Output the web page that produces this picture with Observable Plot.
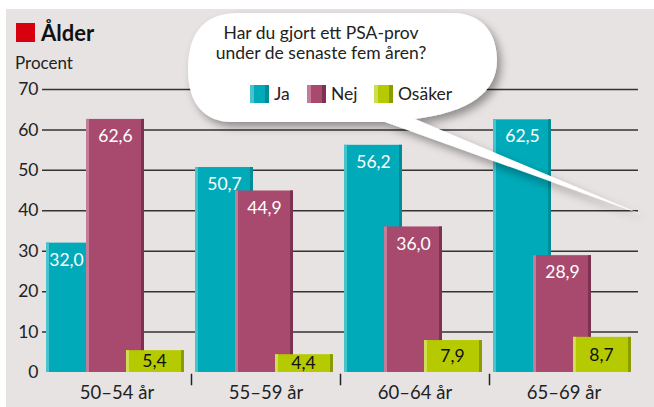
<!DOCTYPE html>
<html>
<head>
<meta charset="utf-8">
<script src="https://cdn.jsdelivr.net/npm/d3@7"></script>
<script src="https://cdn.jsdelivr.net/npm/@observablehq/plot@0.6"></script>
<style>
  html, body { margin: 0; padding: 0; background: #ffffff; }
  #wrap { position: relative; width: 654px; height: 407px; overflow: hidden; font-family: Lato, "Open Sans", sans-serif; }
  #panel { position: absolute; left: 6px; top: 9px; width: 648px; height: 398px; background: #e8e3e3; }
  #chart { position: absolute; left: 0; top: 0; }
  #overlay { position: absolute; left: 0; top: 0; pointer-events: none; }
  .title { position: absolute; left: 16px; top: 19px; font-weight: 700; font-size: 22px; color: #111; display: flex; align-items: center; }
  .title .sq { width: 19px; height: 19px; background: #d7000f; margin-right: 6px; }
  .unit { position: absolute; left: 15px; top: 52px; font-size: 17px; color: #222; }
</style>
</head>
<body>
<div id="wrap">
  <div id="panel"></div>
  <div class="title"><span class="sq"></span><span>Ålder</span></div>
  <div class="unit">Procent</div>
  <div id="chart"></div>
  <svg id="overlay" width="654" height="407"></svg>
</div>
<script>
// ---- data ----
const groups = ["50–54 år", "55–59 år", "60–64 år", "65–69 år"];
const series = ["Ja", "Nej", "Osäker"];
const ja = [32.0, 50.7, 56.2, 62.5];
const nej = [62.6, 44.9, 36.0, 28.9];
const osaker = [5.4, 4.4, 7.9, 8.7];
const yTicks = [0, 10, 20, 30, 40, 50, 60, 70];
const question = ["Har du gjort ett PSA-prov", "under de senaste fem åren?"];

// ---- styles ----
const mainColor = {Ja: "#00aab9", Nej: "#a84a6e", "Osäker": "#b5ca00"};
const lightColor = {Ja: "#45c4ce", Nej: "#c47c98", "Osäker": "#cfdd50"};
const darkColor = {Ja: "#008c96", Nej: "#7d3252", "Osäker": "#8c9b00"};

const valuesBySeries = {Ja: ja, Nej: nej, "Osäker": osaker};
const data = groups.flatMap((g, i) => series.map((s, j) => {
  const v = valuesBySeries[s][i];
  const next = j < series.length - 1 ? valuesBySeries[series[j + 1]][i] : -Infinity;
  return {group: g, series: s, value: v, covered: next > v};
}));
const fmt = d => d3.format(".1f")(d).replace(".", ",");

const barMarks = series.flatMap(s => {
  const d = data.filter(r => r.series === s);
  return [
    Plot.barY(d, {fx: "group", x: "series", y: "value", fill: mainColor[s], insetRight: -18}),
    Plot.barY(d, {fx: "group", x: "series", y: "value", fill: lightColor[s], insetRight: 37}),
    Plot.barY(d, {fx: "group", x: "series", y: "value", fill: darkColor[s], insetLeft: 55, insetRight: -18})
  ];
});

const labelTop = data.filter(d => d.series !== "Osäker");
const labelMarks = [
  Plot.text(labelTop.filter(d => !d.covered), {fx: "group", x: "series", y: "value", text: d => fmt(d.value), fill: "#ffffff", dx: 9, dy: 17, fontSize: 17.5}),
  Plot.text(labelTop.filter(d => d.covered), {fx: "group", x: "series", y: "value", text: d => fmt(d.value), fill: "#ffffff", dx: 0, dy: 17, fontSize: 17.5}),
  Plot.text(data.filter(d => d.series === "Osäker"), {fx: "group", x: "series", y: d => d.value / 2, text: d => fmt(d.value), fill: "#111111", dx: 8, fontSize: 17.5})
];

const boundaryMarks = groups.slice(1).map(g =>
  Plot.frame({fx: () => g, anchor: "left", stroke: "#222", strokeWidth: 1.5, insetTop: 285, insetBottom: -12})
);

const chart = Plot.plot({
  width: 654,
  height: 407,
  marginLeft: 41,
  marginRight: 15,
  marginTop: 89,
  marginBottom: 35,
  style: {background: "transparent", fontFamily: "Lato, 'Open Sans', sans-serif", fontSize: "17px", color: "#222"},
  fx: {domain: groups, padding: 0, label: null},
  x: {domain: series, padding: 0, insetLeft: 3, insetRight: 23.5, axis: null},
  y: {domain: [0, 70], label: null},
  marks: [
    Plot.gridY(yTicks.filter(d => d > 0), {stroke: "#333", strokeOpacity: 1, strokeWidth: 1.5}),
    Plot.axisY(yTicks, {tickSize: 0, tickPadding: 4, fontSize: 17.5, label: null, fill: "#222"}),
    ...barMarks,
    ...labelMarks,
    ...boundaryMarks,
    Plot.axisFx({anchor: "bottom", tickSize: 0, tickPadding: 13, fontSize: 18.5, label: null, fill: "#222"})
  ]
});
document.getElementById("chart").appendChild(chart);

// ---- speech bubble with legend ----
const ov = d3.select("#overlay");
const defs = ov.append("defs");
const f = defs.append("filter").attr("id", "sh").attr("x", "-10%").attr("y", "-10%").attr("width", "130%").attr("height", "140%");
f.append("feDropShadow").attr("dx", 4).attr("dy", 5).attr("stdDeviation", 4.5).attr("flood-color", "#000").attr("flood-opacity", 0.38);
ov.append("path")
  .attr("d", "M 238,13 L 452,13 C 486,13 497,38 497,60 C 497,92 470,112 415,119 L 643,215 Q 505,165 385,122 L 232,122 C 205,122 188,104 188,70 C 188,32 205,13 238,13 Z")
  .attr("fill", "#ffffff")
  .attr("filter", "url(#sh)");
ov.selectAll("text.q").data(question).join("text")
  .attr("class", "q")
  .attr("x", 321).attr("y", (d, i) => 39 + i * 20)
  .attr("text-anchor", "middle")
  .attr("font-family", "Lato, 'Open Sans', sans-serif")
  .attr("font-size", 17.5).attr("fill", "#222")
  .text(d => d);
const legX = [250, 307, 374];
const lg = ov.selectAll("g.leg").data(series).join("g").attr("class", "leg")
  .attr("transform", (d, i) => `translate(${legX[i]},85)`);
lg.append("rect").attr("width", 19).attr("height", 18).attr("fill", d => mainColor[d]);
lg.append("rect").attr("width", 4).attr("height", 18).attr("fill", d => lightColor[d]);
lg.append("rect").attr("x", 15).attr("width", 4).attr("height", 18).attr("fill", d => darkColor[d]);
lg.append("text").attr("x", 24).attr("y", 15)
  .attr("font-family", "Lato, 'Open Sans', sans-serif")
  .attr("font-size", 17.5).attr("fill", "#222").text(d => d);
</script>
</body>
</html>
